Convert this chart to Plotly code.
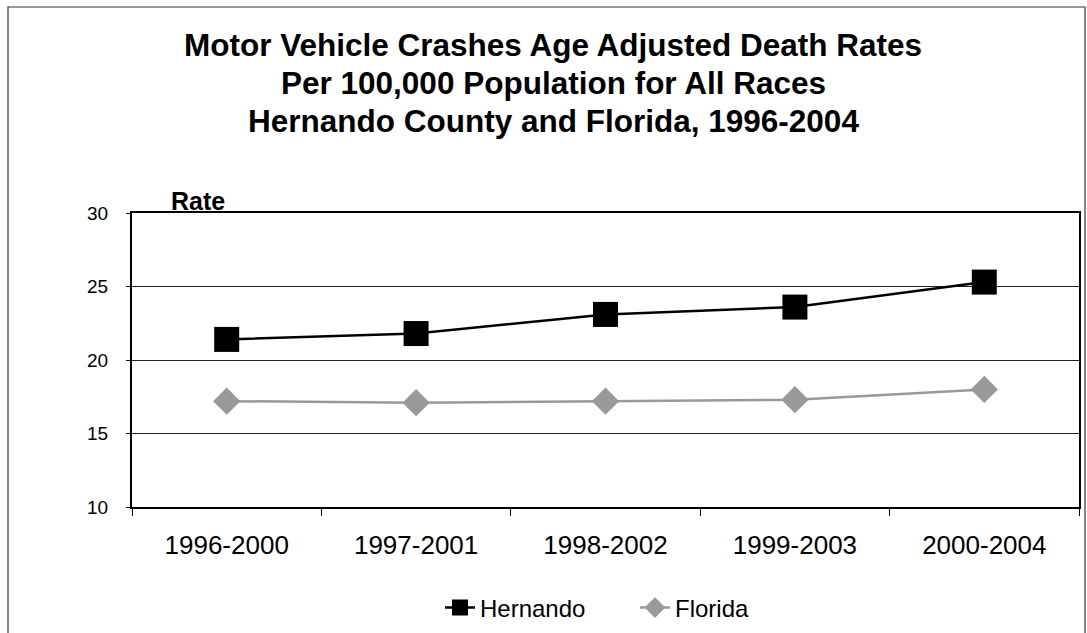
import plotly.graph_objects as go

categories = ["1996-2000", "1997-2001", "1998-2002", "1999-2003", "2000-2004"]
hernando = [21.4, 21.8, 23.1, 23.6, 25.3]
florida = [17.2, 17.1, 17.2, 17.3, 18.0]
y_ticks = [10, 15, 20, 25, 30]
title_lines = [
    "Motor Vehicle Crashes Age Adjusted Death Rates",
    "Per 100,000 Population for All Races",
    "Hernando County and Florida, 1996-2004",
]

FONT = "Liberation Sans, Arial, sans-serif"

W, H = 1087, 633
L, R, T, B = 132, 8, 213, 126
pw = W - L - R
ph = H - T - B

def px_x(p):
    return (p - L) / pw

def px_y(p):
    return (H - B - p) / ph

fig = go.Figure()
fig.add_trace(go.Scatter(
    x=categories, y=hernando, name="Hernando", mode="lines+markers",
    line=dict(color="black", width=2.5),
    marker=dict(symbol="square", size=25, color="black"),
))
fig.add_trace(go.Scatter(
    x=categories, y=florida, name="Florida", mode="lines+markers",
    line=dict(color="#999999", width=2.5),
    marker=dict(symbol="diamond", size=21, color="#999999"),
))

annotations = []
for i, line in enumerate(title_lines):
    annotations.append(dict(
        text="<b>%s</b>" % line, xref="paper", yref="paper",
        x=px_x(553), y=px_y(45 + 38 * i), xanchor="center", yanchor="middle",
        showarrow=False, font=dict(family=FONT, size=31.5, color="black"),
    ))
annotations.append(dict(
    text="<b>Rate</b>", xref="paper", yref="paper",
    x=px_x(169), y=px_y(217), xanchor="left", yanchor="bottom",
    showarrow=False, font=dict(family=FONT, size=25, color="black"),
))

fig.update_layout(
    width=W, height=H,
    margin=dict(l=L, r=R, t=T, b=B, pad=0, autoexpand=False),
    paper_bgcolor="white", plot_bgcolor="white",
    font=dict(family=FONT, color="black"),
    showlegend=True,
    legend=dict(
        orientation="h", x=px_x(635), xanchor="center", y=px_y(608), yanchor="middle",
        font=dict(family=FONT, size=24, color="black"),
        bgcolor="rgba(0,0,0,0)", entrywidth=150,
    ),
    xaxis=dict(
        type="category", range=[-0.5, 4.5], automargin=False,
        tickson="boundaries", ticks="outside", ticklen=7, tickcolor="black",
        showline=True, linecolor="black", linewidth=2, mirror=True,
        showgrid=False, zeroline=False,
        tickfont=dict(family=FONT, size=26, color="black"),
        ticklabelstandoff=14,
    ),
    yaxis=dict(
        range=[10, 30], tickvals=y_ticks, ticks="outside", ticklen=4, tickcolor="black",
        automargin=False,
        showline=True, linecolor="black", linewidth=2, mirror=True,
        showgrid=True, gridcolor="#222222", gridwidth=1, zeroline=False,
        tickfont=dict(family=FONT, size=19, color="black"),
        ticklabelstandoff=14,
    ),
    annotations=annotations,
    shapes=[dict(
        type="rect", xref="paper", yref="paper",
        x0=px_x(8), x1=px_x(1085), y0=px_y(645), y1=px_y(7),
        line=dict(color="#333333", width=1.2), layer="below",
    )],
)

fig.write_html(
    "out.html",
    config={"displayModeBar": False},
    post_script="document.body.style.margin='0';document.body.style.overflow='hidden';",
)
